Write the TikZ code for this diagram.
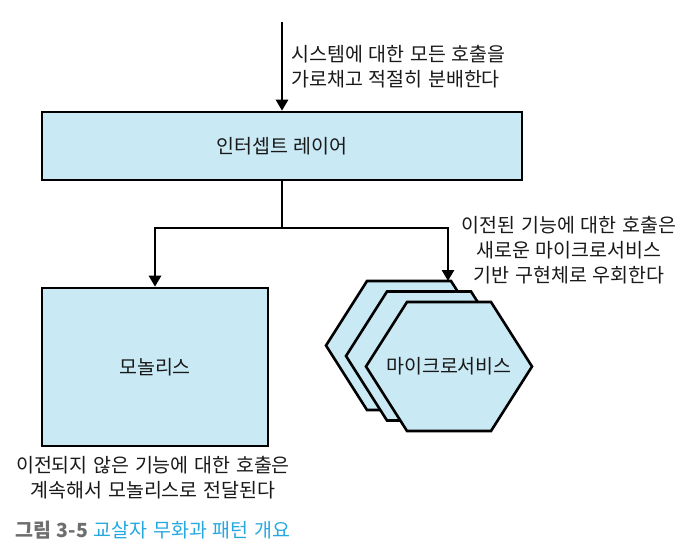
\documentclass[tikz,border=0pt]{standalone}
\usepackage{fontspec}
\setmainfont{Noto Sans CJK KR}[WordSpace=1.3]
\usetikzlibrary{arrows.meta}
\definecolor{boxfill}{RGB}{201,233,245}
\definecolor{txtcol}{RGB}{25,25,25}
\definecolor{capgray}{RGB}{110,110,110}
\definecolor{capblue}{RGB}{38,168,224}
\tikzset{
  txt/.style={font=\fontsize{19.5}{25}\selectfont, text=txtcol, inner sep=0pt},
  box/.style={draw=black, fill=boxfill, line width=2.6pt, font=\fontsize{19.5}{25}\selectfont, text=txtcol},
  conn/.style={line width=2.6pt, draw=black},
  arr/.style={conn, -{Triangle[width=12pt,length=11pt]}},
  hexstyle/.style={draw=black, fill=boxfill, line width=2.6pt, line join=miter}
}
\begin{document}
\begin{tikzpicture}[x=1pt,y=-1pt]
\useasboundingbox (0,0) rectangle (700,558);
% top note and input arrow
\coordinate (start) at (282,22);
\node[txt, anchor=west, align=left] (topnote) at (291,67) {시스템에 대한 모든 호출을\\가로채고 적절히 분배한다};
\node[box, minimum width=480pt, minimum height=68pt, inner sep=0pt] (icpt) at (282,146) {인터셉트 레이어};
\draw[arr] (start) -- (icpt.north);
% monolith
\node[box, minimum width=226pt, minimum height=158pt, inner sep=0pt] (mono) at (155,367) {모놀리스};
% hexagons
\foreach \cx/\cy in {409/345.5, 429/356, 449/366.5}{
  \draw[hexstyle] (\cx-83,\cy) -- (\cx-42,\cy-64.5) -- (\cx+42,\cy-64.5) -- (\cx+83,\cy) -- (\cx+42,\cy+64.5) -- (\cx-42,\cy+64.5) -- cycle;
}
\node[txt] (ms) at (449,366.5) {마이크로서비스};
\coordinate (hextop) at (448,281);
% connectors
\coordinate (split) at (282,228);
\draw[conn] (icpt.south) -- (split);
\draw[arr] (split) -| (mono.north);
\draw[arr] (split) -| (hextop);
% notes
\node[txt, align=center] (rnote) at (569,250) {이전된 기능에 대한 호출은\\새로운 마이크로서비스\\기반 구현체로 우회한다};
\node[txt, align=center] (bnote) at (153,477.5) {이전되지 않은 기능에 대한 호출은\\계속해서 모놀리스로 전달된다};
% caption
\node[anchor=west, inner sep=0pt, font=\fontsize{19.5}{22}\selectfont] (cap) at (15,530) {\textcolor{capgray}{\bfseries 그림 3-5} \textcolor{capblue}{교살자 무화과 패턴 개요}};
\end{tikzpicture}
\end{document}
